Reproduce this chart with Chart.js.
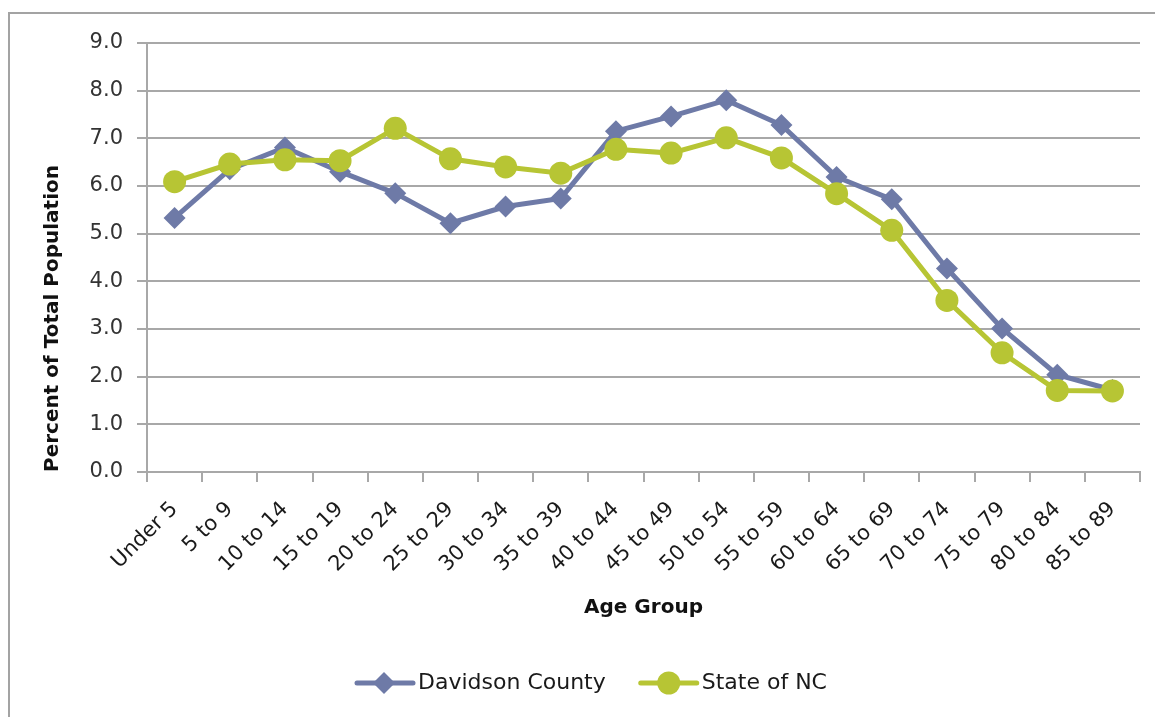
<!DOCTYPE html>
<html>
<head>
<meta charset="utf-8">
<script src="https://cdn.jsdelivr.net/npm/chart.js@4.4.1/dist/chart.umd.min.js"></script>
<style>
    html, body { margin: 0; padding: 0; background: #fff; }
    body { width: 1155px; height: 717px; overflow: hidden; position: relative; }
    #frame { position: absolute; left: 8px; top: 12px; width: 1200px; height: 800px; border: 2px solid #a3a3a3; }
    #wrap { position: absolute; left: 0; top: 0; width: 1155px; height: 717px; }
</style>
</head>
<body>
<div id="frame"></div>
<div id="wrap"><canvas id="grafico"></canvas></div>
<script>
const ageGroups = ["Under 5", "5 to 9", "10 to 14", "15 to 19", "20 to 24", "25 to 29", "30 to 34", "35 to 39", "40 to 44",
    "45 to 49", "50 to 54", "55 to 59", "60 to 64", "65 to 69", "70 to 74", "75 to 79", "80 to 84", "85 to 89"];
const davidson = [5.33, 6.35, 6.81, 6.30, 5.85, 5.22, 5.57, 5.74, 7.15, 7.46, 7.80, 7.28, 6.19, 5.72, 4.27, 3.01, 2.04, 1.72];
const stateNC = [6.09, 6.46, 6.55, 6.53, 7.21, 6.57, 6.40, 6.27, 6.77, 6.69, 7.01, 6.59, 5.84, 5.07, 3.60, 2.50, 1.71, 1.70];
const yMin = 0;
const yMax = 9;
const yStep = 1;

const FONTE = "'DejaVu Sans', sans-serif";
const CINZA = "#a8a8a8";

// legenda desenhada a mao: linha + marcador + texto, como no Excel
const legendaPlugin = {
    id: "legendaLinhas",
    afterDraw(chart) {
        const { ctx } = chart;
        const y = 683;
        let x = 357;

        ctx.save();
        ctx.font = "22px " + FONTE;
        ctx.textBaseline = "middle";
        ctx.textAlign = "left";

        chart.data.datasets.forEach(ds => {
            ctx.strokeStyle = ds.borderColor;
            ctx.lineWidth = 5;
            ctx.lineCap = "round";
            ctx.beginPath();
            ctx.moveTo(x, y);
            ctx.lineTo(x + 56, y);
            ctx.stroke();

            ctx.fillStyle = ds.borderColor;
            ctx.beginPath();
            if (ds.pointStyle === "circle") {
                ctx.arc(x + 28, y, ds.pointRadius, 0, Math.PI * 2);
            } else {
                const r = ds.pointRadius;
                ctx.moveTo(x + 27, y - r);
                ctx.lineTo(x + 27 + r, y);
                ctx.lineTo(x + 27, y + r);
                ctx.lineTo(x + 27 - r, y);
                ctx.closePath();
            }
            ctx.fill();

            ctx.fillStyle = "#1a1a1a";
            ctx.fillText(ds.label, x + 61, y);
            x += 61 + ctx.measureText(ds.label).width + 35;
        });

        ctx.restore();
    }
};

const ctx = document.getElementById("grafico").getContext("2d");

new Chart(ctx, {
    type: "line",
    data: {
        labels: ageGroups,
        datasets: [{
            label: "Davidson County",
            data: davidson,
            borderColor: "#6e7aa7",
            backgroundColor: "#6e7aa7",
            borderWidth: 5,
            pointStyle: "rectRot",
            pointRadius: 11,
            pointBorderWidth: 0,
            tension: 0,
            order: 1
        }, {
            label: "State of NC",
            data: stateNC,
            borderColor: "#b7c534",
            backgroundColor: "#b7c534",
            borderWidth: 5,
            pointStyle: "circle",
            pointRadius: 11.5,
            pointBorderWidth: 0,
            tension: 0,
            order: 0
        }]
    },
    plugins: [legendaPlugin],
    options: {
        responsive: true,
        maintainAspectRatio: false,
        animation: false,
        layout: {
            padding: { top: 43, right: 15, bottom: 0, left: 0 }
        },
        plugins: {
            legend: { display: false },
            tooltip: { enabled: false }
        },
        scales: {
            x: {
                offset: true,
                afterFit: scale => { scale.height = 245; },
                grid: {
                    offset: true,
                    drawOnChartArea: false,
                    drawTicks: true,
                    tickLength: 10,
                    color: CINZA,
                    lineWidth: 2
                },
                border: { color: CINZA, width: 2 },
                ticks: {
                    autoSkip: false,
                    maxRotation: 45,
                    minRotation: 45,
                    padding: 15,
                    color: "#1a1a1a",
                    font: { family: FONTE, size: 21 }
                },
                title: {
                    display: true,
                    text: "Age Group",
                    color: "#111",
                    font: { family: FONTE, size: 20, weight: "bold" },
                    padding: { bottom: 97 }
                }
            },
            y: {
                min: yMin,
                max: yMax,
                afterFit: scale => { scale.width = 147; },
                grid: {
                    color: CINZA,
                    lineWidth: 2,
                    tickLength: 10
                },
                border: { color: CINZA, width: 2 },
                ticks: {
                    stepSize: yStep,
                    padding: 14,
                    color: "#333",
                    font: { family: FONTE, size: 21 },
                    callback: valor => Number(valor).toFixed(1)
                },
                title: {
                    display: true,
                    text: "Percent of Total Population",
                    align: "start",
                    color: "#111",
                    font: { family: FONTE, size: 20, weight: "bold" },
                    padding: { top: 41 }
                }
            }
        }
    }
});
</script>
</body>
</html>
